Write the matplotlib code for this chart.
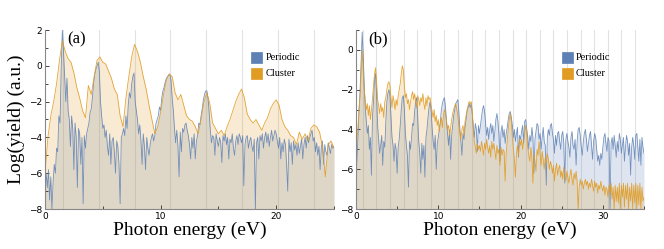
import numpy as np
import matplotlib
matplotlib.use("Agg")
import matplotlib.pyplot as plt
from matplotlib.patches import Rectangle

# panel (a): 0-25 eV
per_a = [
    -7.0, -6.0, -6.8, -5.8, -7.5, -6.2, -8.0, -6.5, -5.5, -6.0,
    -4.6, -4.8, -2.8, -3.2, -0.2, 2.0, 0.8, -0.6, -2.0, -0.7,
    -2.5, -3.0, -4.5, -2.8, -3.5, -5.8, -3.2, -4.0, -6.8, -3.5,
    -3.8, -5.5, -4.0, -7.7, -3.9, -4.6, -3.8, -3.5, -3.2, -2.6,
    -2.4, -1.8, -1.0, -0.5, -0.2, 0.0, 0.2, -0.3, -2.0, -2.8,
    -3.5, -3.3, -4.0, -3.6, -4.5, -5.0, -3.8, -5.5, -4.2, -4.0,
    -4.8, -6.0, -4.2, -4.5, -5.5, -7.7, -4.0, -3.8, -3.5, -3.9,
    -2.8, -3.5, -2.2, -1.5, -1.8, -1.0, -0.6, -0.4, -2.0, -2.5,
    -3.0, -3.8, -3.3, -4.2, -5.5, -3.8, -4.5, -5.8, -4.0, -4.6,
    -5.0, -4.4, -4.0, -3.8, -4.2, -3.9, -3.2, -3.0, -2.8, -2.3,
    -2.5, -1.8, -1.4, -1.2, -0.9, -0.7, -0.6, -0.5, -0.5, -0.8,
    -1.8, -2.5, -3.5, -4.3, -3.6, -4.5, -6.2, -3.7, -4.8, -3.5,
    -3.7, -3.3, -3.2, -3.6, -3.9, -4.4, -5.2, -4.0, -4.6, -3.8,
    -5.2, -4.2, -3.9, -3.2, -3.3, -2.8, -2.4, -1.9, -1.6, -1.4,
    -1.4, -1.8, -2.6, -3.6, -4.3, -3.9, -4.0, -5.0, -3.8, -4.2,
    -4.5, -4.0, -4.3, -5.4, -3.9, -4.2, -3.8, -4.4, -4.0, -5.2,
    -4.1, -4.3, -3.8, -4.6, -5.0, -4.2, -3.9, -4.4, -3.8, -4.0,
    -4.3, -3.9, -6.7, -4.4, -4.0, -3.9, -4.6, -4.2, -4.0, -4.5,
    -4.8, -4.1, -8.0, -4.3, -4.0, -5.2, -3.9, -4.2, -3.8, -4.6,
    -4.0, -3.7, -4.3, -3.8, -4.5, -4.0, -3.6, -4.2, -3.9, -3.6,
    -3.8, -4.2, -4.6, -4.0, -5.2, -4.3, -4.8, -4.1, -4.4, -5.5,
    -7.0, -4.1, -4.8, -4.3, -5.5, -4.2, -4.7, -4.4, -5.0, -4.3,
    -4.9, -4.5, -4.1, -5.2, -4.4, -4.0, -4.6, -3.9, -4.3, -4.0,
    -3.8, -3.6, -4.2, -4.0, -4.8, -4.3, -5.0, -4.5, -5.8, -4.6,
    -4.2, -5.5, -4.4, -4.8, -5.0, -4.3, -4.6, -4.9, -4.4, -4.6,
    -4.5,
]
clu_a = [
    -6.0, -4.0, -2.8, -2.0, -1.0, 0.3, 1.4, 0.8, 0.4, 0.2,
    -0.4, -1.2, -1.8, -2.5, -2.9, -1.1, -1.6, -0.6, 0.3, 0.5,
    0.2, 0.1, -0.3, -0.7, -1.3, -1.6, -2.8, -3.4, -1.8, -0.6,
    0.5, 1.2, 0.8, 0.2, -0.6, -1.3, -2.2, -3.0, -3.8, -3.4,
    -2.6, -1.6, -0.8, -0.45, -0.6, -1.5, -1.9, -1.6, -2.2, -2.8,
    -3.0, -3.1, -3.4, -3.8, -3.0, -2.0, -1.5, -2.1, -3.2, -3.5,
    -3.8, -3.6, -3.9, -3.4, -3.0, -2.5, -2.0, -1.6, -1.3, -1.8,
    -2.7, -3.0, -3.2, -3.0, -3.3, -3.6, -3.2, -2.9, -2.4, -2.1,
    -1.9, -2.2, -3.0, -3.4, -3.6, -3.9, -4.0, -4.4, -3.7, -4.1,
    -3.8, -4.2, -3.5, -3.3, -3.4, -3.7, -4.5, -6.2, -4.4, -4.2,
    -4.6,
]

# panel (b): 0-35 eV
per_b = [
    -6.5, -5.5, -4.2, -3.0, -2.0, -0.5, 0.9, -0.3,
    -1.8, -2.9, -3.6, -4.2, -3.8, -5.0, -4.4, -6.3,
    -3.4, -2.6, -1.5, -1.2, -2.2, -3.8, -4.5, -5.2,
    -4.8, -4.3, -5.8, -4.6, -4.9, -3.6, -2.6, -2.2,
    -2.0, -2.3, -3.4, -4.4, -4.8, -5.6, -4.7, -5.0,
    -6.2, -4.9, -4.5, -3.8, -3.0, -2.4, -2.3, -3.0,
    -4.2, -4.8, -5.3, -6.9, -4.6, -5.0, -4.4, -3.7,
    -3.8, -3.1, -2.6, -2.4, -3.4, -4.6, -5.2, -6.2,
    -4.7, -5.5, -4.8, -6.4, -4.4, -4.0, -3.4, -2.9,
    -2.6, -3.0, -3.9, -4.6, -5.0, -4.3, -6.0, -4.7,
    -4.4, -4.0, -3.6, -3.0, -2.7, -2.5, -2.4, -2.9,
    -3.6, -4.2, -4.8, -4.0, -5.5, -4.3, -3.8, -3.3,
    -3.0, -2.7, -2.6, -2.5, -3.1, -4.0, -4.6, -5.3,
    -4.2, -4.5, -3.9, -3.5, -3.1, -2.9, -2.7, -2.9,
    -2.7, -3.2, -3.9, -4.4, -3.7, -4.0, -5.1, -3.8,
    -4.2, -3.8, -3.4, -3.0, -2.8, -3.1, -3.7, -4.3,
    -3.9, -4.5, -4.0, -3.7, -4.2, -3.8, -4.6, -4.1,
    -3.5, -3.2, -3.6, -4.3, -5.6, -4.1, -3.8, -4.4,
    -4.0, -4.7, -4.2, -3.9, -3.5, -3.2, -3.1, -3.4,
    -3.8, -4.4, -4.0, -4.6, -4.2, -3.9, -5.4, -4.3,
    -4.5, -4.1, -3.8, -4.7, -3.6, -3.5, -4.0, -4.4,
    -5.0, -4.3, -4.6, -3.9, -4.4, -6.2, -4.5, -4.1,
    -3.7, -3.8, -4.5, -4.2, -5.0, -4.4, -3.9, -4.6,
    -4.8, -6.8, -4.4, -4.0, -4.3, -3.8, -3.7, -4.2,
    -4.5, -5.2, -4.3, -4.8, -4.2, -4.1, -4.6, -5.0,
    -4.3, -4.1, -4.7, -6.7, -4.5, -4.2, -4.6, -4.9,
    -5.4, -4.4, -4.1, -4.8, -5.0, -4.5, -5.8, -4.6,
    -4.0, -3.9, -4.3, -4.9, -5.3, -4.6, -4.2, -4.0,
    -4.5, -5.1, -4.7, -4.3, -4.1, -4.8, -5.5, -4.6,
    -4.2, -4.4, -5.0, -5.6, -5.3, -5.8, -5.2, -5.5,
    -4.9, -4.4, -4.2, -4.7, -5.1, -4.4, -4.6, -8.0,
    -4.7, -4.4, -5.0, -4.3, -4.8, -5.4, -4.6, -5.1,
    -4.2, -4.5, -5.2, -4.8, -4.4, -5.6, -4.9, -4.3,
    -4.6, -5.3, -4.7, -6.3, -4.9, -4.4, -4.8, -5.5,
    -4.3, -4.2, -4.9, -5.6, -4.5, -5.8, -4.4, -4.9,
    -5.2,
]
clu_b = [
    -5.0, -4.5, -3.8, -2.9, -2.4, -1.2, 0.0, -1.0,
    -2.0, -2.6, -3.0, -2.7, -3.3, -2.8, -3.5, -3.0,
    -2.5, -1.8, -1.2, -0.9, -1.6, -2.5, -2.8, -3.2,
    -2.7, -3.1, -2.9, -3.4, -2.6, -2.4, -2.0, -1.7,
    -1.6, -1.8, -2.4, -2.9, -2.3, -2.6, -3.0, -2.5,
    -2.8, -2.3, -2.0, -1.7, -1.2, -0.8, -1.0, -1.8,
    -2.4, -2.2, -2.7, -2.5, -3.0, -2.6, -2.3, -2.1,
    -2.5, -2.2, -2.6, -2.9, -2.3, -2.5, -2.8, -2.4,
    -2.6, -2.2, -2.7, -3.0, -2.4, -2.8, -2.3, -2.5,
    -2.4, -2.8, -3.1, -3.4, -3.0, -3.6, -3.3, -3.8,
    -3.5, -4.1, -3.7, -3.4, -3.9, -3.3, -3.0, -3.2,
    -3.6, -4.0, -3.8, -4.3, -3.9, -3.5, -3.2, -3.0,
    -2.8, -2.7, -3.0, -3.3, -3.8, -4.2, -4.5, -4.0,
    -3.8, -4.3, -3.6, -3.3, -3.0, -2.8, -2.6, -2.7,
    -2.6, -3.1, -3.9, -4.6, -4.9, -5.2, -4.7, -5.0,
    -4.8, -5.1, -4.6, -4.9, -5.3, -4.7, -5.0, -4.5,
    -4.9, -5.2, -4.8, -5.4, -4.6, -5.0, -4.7, -5.1,
    -5.5, -4.8, -5.2, -5.0, -5.8, -4.9, -5.3, -5.0,
    -5.1, -6.6, -5.2, -4.6, -4.0, -3.5, -3.2, -3.6,
    -4.4, -5.0, -5.5, -6.4, -5.2, -4.8, -5.3, -4.5,
    -4.8, -4.5, -5.0, -4.6, -4.2, -3.8, -4.2, -4.9,
    -5.3, -5.6, -4.9, -5.4, -6.7, -5.2, -5.6, -6.1,
    -5.0, -5.3, -4.6, -5.2, -5.8, -5.1, -5.5, -6.0,
    -5.4, -5.7, -5.2, -5.5, -6.0, -5.6, -5.8, -6.2,
    -5.8, -6.6, -6.0, -5.7, -6.3, -6.0, -5.8, -6.4,
    -6.1, -6.5, -5.9, -6.2, -6.6, -6.1, -6.4, -6.7,
    -6.3, -6.0, -6.5, -6.8, -6.2, -6.5, -6.1, -6.6,
    -8.0, -6.9, -6.5, -6.8, -6.6, -7.0, -6.7, -6.5,
    -6.8, -6.6, -7.0, -6.7, -6.9, -6.5, -6.8, -7.1,
    -6.6, -6.9, -6.7, -7.2, -6.8, -7.0, -6.6, -6.9,
    -7.1, -6.8, -7.3, -6.9, -7.0, -7.4, -6.8, -7.2,
    -6.7, -7.5, -6.9, -8.0, -6.8, -7.6, -6.9, -7.7,
    -6.7, -8.0, -6.8, -7.4, -6.7, -7.9, -6.8, -7.5,
    -6.7, -8.0, -6.9, -7.6, -6.7, -8.0, -6.8, -7.7,
    -6.7, -8.0, -6.8, -7.8, -6.7, -8.0, -6.9, -7.6,
    -7.4,
]

# driving photon energies (odd harmonics drawn as grid lines)
w_a = 1.55
w_b = 0.827

blue = "#5E81B5"
orange = "#E19C24"
serif = ["Liberation Serif", "DejaVu Serif"]

fig = plt.figure(figsize=(6.64, 2.49), dpi=100)
ax_a = fig.add_axes([45 / 664, 1 - 209 / 249, 289 / 664, 179 / 249])
ax_b = fig.add_axes([356 / 664, 1 - 209 / 249, 288 / 664, 179 / 249])

panels = [
    (ax_a, per_a, clu_a, 25, 2, w_a, "(a)", 1.9),
    (ax_b, per_b, clu_b, 35, 1, w_b, "(b)", 1.45),
]

for ax, per, clu, xmax, ytop, w, tag, tagx in panels:
    xp = np.linspace(0, xmax, len(per))
    xc = np.linspace(0, xmax, len(clu))
    for k in np.arange(1, xmax / w, 2):
        ax.axvline(k * w, color="#e2e2e2", lw=0.8, zorder=0)
    ax.fill_between(xp, per, -8, color=blue, alpha=0.2, lw=0, zorder=1)
    ax.fill_between(xc, clu, -8, color=orange, alpha=0.2, lw=0, zorder=1)
    ax.plot(xp, per, color=blue, lw=0.6, alpha=0.85, zorder=2)
    ax.plot(xc, clu, color=orange, lw=0.6, alpha=0.9, zorder=2)
    ax.set_xlim(0, xmax)
    ax.set_ylim(-8, ytop)
    ax.set_xticks(np.arange(0, xmax + 0.1, 10))
    ax.set_xticks(np.arange(5, xmax + 0.1, 10), minor=True)
    ax.set_yticks(np.arange(-8, ytop + 0.1, 2))
    ax.set_yticks(np.arange(-7, ytop + 0.1, 2), minor=True)
    ax.tick_params(which="both", direction="in", labelsize=6.5, width=0.7,
                   color="#444444", pad=2)
    ax.tick_params(which="major", length=3)
    ax.tick_params(which="minor", length=2)
    for s in ["top", "right"]:
        ax.spines[s].set_visible(False)
    for s in ["left", "bottom"]:
        ax.spines[s].set_color("#888888")
        ax.spines[s].set_linewidth(0.8)
    ax.set_xlabel("Photon energy (eV)", family=serif, fontsize=14, labelpad=1)
    ax.text(tagx, ytop - 0.05 * (ytop + 8), tag, family=serif, fontsize=12,
            va="center", ha="left")

    # legend boxes
    sw = 11 / (ax.bbox.width)
    sh = 11 / (ax.bbox.height)
    lx = 0.714
    for i, (name, c) in enumerate([("Periodic", blue), ("Cluster", orange)]):
        y0 = 0.877 - sh - i * 16 / ax.bbox.height
        ax.add_patch(Rectangle((lx, y0), sw, sh, transform=ax.transAxes,
                               facecolor=c, edgecolor=c, lw=0.5, zorder=5))
        ax.text(lx + sw + 0.012, y0 + sh / 2, name, transform=ax.transAxes,
                family=serif, fontsize=7.5, va="center", ha="left")

ax_a.set_ylabel("Log(yield) (a.u.)", family=serif, fontsize=14, labelpad=3)

fig.savefig("out.png", dpi=100)
